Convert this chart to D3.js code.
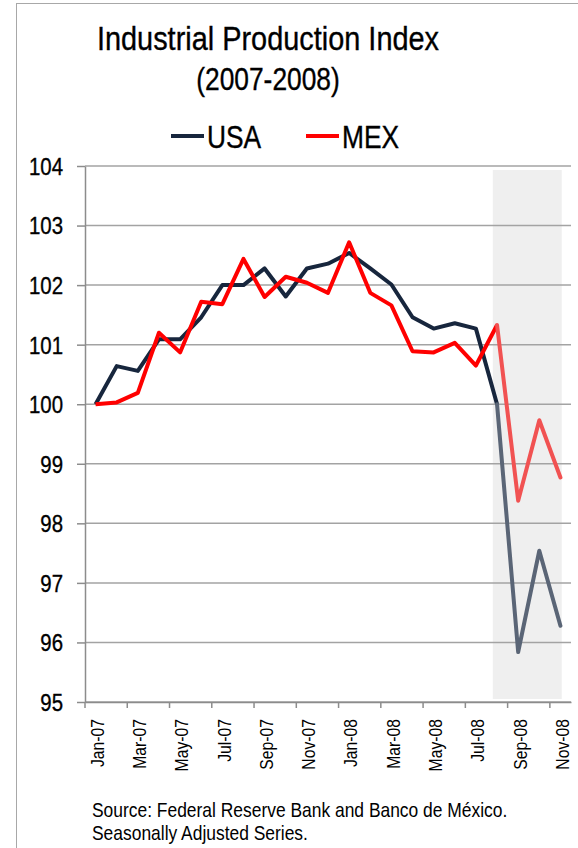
<!doctype html>
<html lang="en">
<head>
  <meta charset="utf-8">
  <title>Industrial Production Index - D3</title>
  <style>
    body { margin: 0; background: #fff; }
    svg text { font-family: "Liberation Sans Narrow", "Arial Narrow", "Liberation Sans", sans-serif; fill: #000; }
    svg text.heavy { stroke: #000; stroke-width: 0.35px; }
  </style>
</head>
<body>
  <svg width="578" height="848"></svg>

  <script src="https://cdn.jsdelivr.net/npm/d3@7"></script>
  <script>
    var months = ["Jan-07", "Feb-07", "Mar-07", "Apr-07", "May-07", "Jun-07", "Jul-07", "Aug-07",
      "Sep-07", "Oct-07", "Nov-07", "Dec-07", "Jan-08", "Feb-08", "Mar-08", "Apr-08", "May-08",
      "Jun-08", "Jul-08", "Aug-08", "Sep-08", "Oct-08", "Nov-08"];
    var usa = [100, 100.64, 100.56, 101.09, 101.09, 101.46, 102.0, 102.0, 102.28, 101.81, 102.28, 102.36,
      102.54, 102.28, 102.01, 101.46, 101.27, 101.36, 101.27, 100.0, 95.84, 97.54, 96.28];
    var mex = [100, 100.03, 100.19, 101.2, 100.87, 101.72, 101.68, 102.44, 101.8, 102.14, 102.04, 101.87,
      102.72, 101.87, 101.66, 100.89, 100.87, 101.03, 100.65, 101.33, 98.38, 99.73, 98.77];
    var seriesNames = ["USA", "MEX"];
    var yTicks = [95, 96, 97, 98, 99, 100, 101, 102, 103, 104];
    var xLabels = months.filter((m, i) => i % 2 === 0);
    var shadeFrom = "Aug-08";

    var colors = { USA: "#17263d", MEX: "#ff0000" };
    var faded = { USA: "#5a6576", MEX: "#f15252" };
    var values = { USA: usa, MEX: mex };

    // no narrow font installed, so squeeze the regular one
    var sx = 0.85;

    var svg = d3.select("svg");
    var plotL = 85, plotR = 571, plotT = 166, plotB = 702;

    // outer frame
    svg.append("rect")
      .attr("x", 16.5).attr("y", 3.5)
      .attr("width", 700).attr("height", 900)
      .attr("fill", "none").attr("stroke", "#a8a8a8").attr("stroke-width", 1);

    var x = d3.scaleBand().domain(months).range([plotL, plotR]);
    var bw = x.bandwidth();
    var xc = m => x(m) + bw / 2;
    var y = d3.scaleLinear().domain([95, 104]).range([plotB, plotT]);

    // titles
    svg.append("text").attr("class", "heavy")
      .attr("transform", "translate(268,50) scale(" + sx + ",1)")
      .attr("text-anchor", "middle").attr("font-size", 34)
      .text("Industrial Production Index");
    svg.append("text").attr("class", "heavy")
      .attr("transform", "translate(268,90) scale(" + sx + ",1)")
      .attr("text-anchor", "middle").attr("font-size", 31)
      .text("(2007-2008)");

    // legend
    var lx = [171, 306];
    var leg = svg.selectAll("g.leg").data(seriesNames).enter()
      .append("g").attr("class", "leg")
      .attr("transform", (d, i) => "translate(" + lx[i] + ",136)");
    leg.append("line").attr("x1", 0).attr("x2", 33)
      .attr("stroke", d => colors[d]).attr("stroke-width", 4);
    leg.append("text").attr("class", "heavy")
      .attr("transform", "translate(36,12) scale(" + sx + ",1)")
      .attr("font-size", 31).text(d => d);

    // shaded period
    var shadeIdx = months.indexOf(shadeFrom);
    var sx0 = xc(shadeFrom) - 0.2 * bw;
    var sx1 = xc(months[months.length - 1]) + 0.06 * bw;
    svg.append("rect")
      .attr("x", sx0)
      .attr("y", y(104) + 4)
      .attr("width", sx1 - sx0)
      .attr("height", y(95) - y(104) - 7)
      .attr("fill", "#efefef");

    // gridlines
    svg.append("g").selectAll("line").data(yTicks).enter()
      .append("line")
      .attr("x1", plotL).attr("x2", plotR)
      .attr("y1", d => y(d)).attr("y2", d => y(d))
      .attr("stroke", "#a3a3a3").attr("stroke-width", 1.5);

    // y axis
    var yAxis = svg.append("g")
      .attr("transform", "translate(" + plotL + ",0)")
      .call(d3.axisLeft(y).tickValues(yTicks).tickSize(8).tickSizeOuter(0));
    yAxis.attr("font-family", null);
    yAxis.select(".domain").attr("stroke", "#8c8c8c").attr("stroke-width", 1.5);
    yAxis.selectAll(".tick line").attr("stroke", "#8c8c8c").attr("stroke-width", 1.5);
    yAxis.selectAll(".tick text")
      .attr("class", "heavy")
      .attr("font-size", 24).attr("fill", "#000")
      .attr("x", 0).attr("dy", "0.35em")
      .attr("transform", "translate(-22,0) scale(" + sx + ",1)");

    // x axis
    var xAxis = svg.append("g")
      .attr("transform", "translate(0," + plotB + ")")
      .call(d3.axisBottom(x).tickValues(xLabels).tickSize(6).tickSizeOuter(0));
    xAxis.attr("font-family", null);
    xAxis.select(".domain").attr("stroke", "#8c8c8c").attr("stroke-width", 1.5);
    xAxis.selectAll(".tick line")
      .attr("transform", "translate(" + (-bw / 2) + ",0)")
      .attr("stroke", "#8c8c8c").attr("stroke-width", 1.5);
    xAxis.selectAll(".tick text")
      .attr("font-size", 18.5).attr("fill", "#000")
      .attr("text-anchor", "end")
      .attr("x", 0).attr("y", 0).attr("dy", "0.45em")
      .attr("transform", "rotate(-90) translate(-17,0) scale(" + sx + ",1)");

    // lines
    var line = d3.line()
      .x(d => xc(d.m))
      .y(d => y(d.v));

    seriesNames.forEach(function (name) {
      var pts = months.map((m, i) => ({ m: m, v: values[name][i] }));
      svg.append("path")
        .datum(pts.slice(0, shadeIdx + 1))
        .attr("d", line)
        .attr("fill", "none")
        .attr("stroke", colors[name])
        .attr("stroke-width", 4)
        .attr("stroke-linejoin", "round");
      svg.append("path")
        .datum(pts.slice(shadeIdx))
        .attr("d", line)
        .attr("fill", "none")
        .attr("stroke", faded[name])
        .attr("stroke-width", 4)
        .attr("stroke-linejoin", "round")
        .attr("stroke-linecap", "round");
    });

    // source note
    var notes = ["Source: Federal Reserve Bank and Banco de México.", "Seasonally Adjusted Series."];
    svg.selectAll("text.note").data(notes).enter()
      .append("text").attr("class", "note")
      .attr("font-size", 20.5)
      .attr("transform", (d, i) => "translate(92," + (817 + i * 23) + ") scale(" + sx + ",1)")
      .text(d => d);
  </script>
</body>
</html>
